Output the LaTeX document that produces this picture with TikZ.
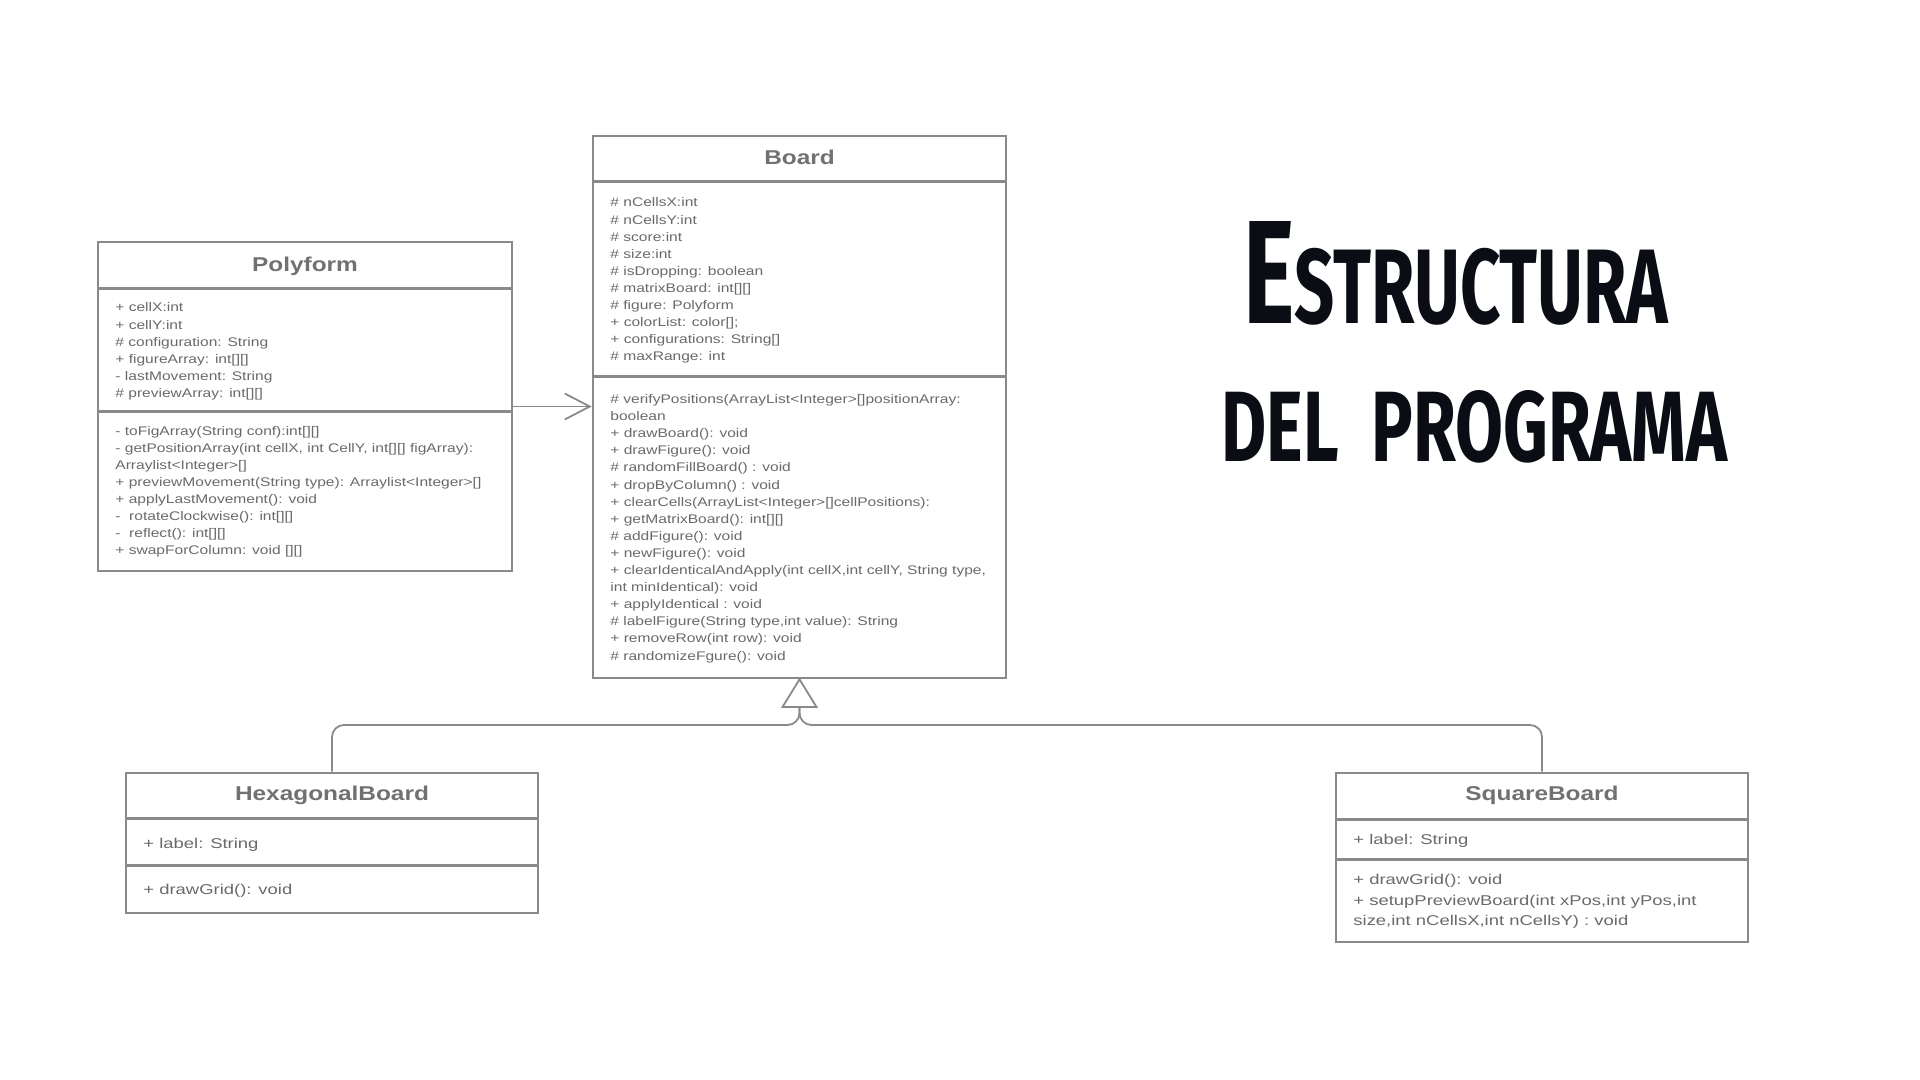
\documentclass[tikz,border=0pt]{standalone}
\usepackage{fontspec}
\usepackage{graphicx}
\setmainfont{Liberation Sans}
\newfontfamily\bodyf{Liberation Sans}[FakeStretch=1.245]
\newfontfamily\bigf{Liberation Sans}[FakeStretch=1.3]
\newfontfamily\headf{Liberation Sans}[FakeStretch=1.22]
\newfontfamily\titlef{Fira Sans}
\usetikzlibrary{arrows.meta,calc}
\definecolor{boxgray}{HTML}{8A8A8A}
\definecolor{txtgray}{HTML}{6A6A6A}
\definecolor{headgray}{HTML}{717171}
\definecolor{titleblack}{HTML}{0B0D15}
\begin{document}
\begin{tikzpicture}[x=0.5pt,y=-0.5pt,
 umlbox/.style={draw=boxgray, line width=1.3pt, fill=white, inner sep=0, rectangle},
 sep/.style={draw=boxgray, line width=1.3pt},
 head/.style={anchor=base, inner sep=0, text=headgray, font=\headf\bfseries\fontsize{10pt}{12pt}\selectfont},
 txt/.style={anchor=base west, inner sep=0, text=txtgray, font=\bodyf\fontsize{6.25pt}{8.5pt}\selectfont},
 txtbig/.style={anchor=base west, inner sep=0, text=txtgray, font=\bigf\fontsize{7.1pt}{10pt}\selectfont},
 conn/.style={draw=boxgray, line width=0.9pt},
 titletxt/.style={anchor=base west, inner sep=0, text=titleblack}
]
\useasboundingbox[fill=white] (0,0) rectangle (1920,1080);

% ---------- boxes ----------
\node[umlbox, minimum width=206.5pt, minimum height=271pt] (board) at (799.5,407) {};
\node[umlbox, minimum width=207pt, minimum height=164.5pt] (poly) at (305,406.5) {};
\node[umlbox, minimum width=206pt, minimum height=70pt] (hex) at (332,843) {};
\node[umlbox, minimum width=206pt, minimum height=84.5pt] (sq) at (1542,857.5) {};

% separators
\draw[sep] ($(board.north west)+(0,47)$) -- ($(board.north east)+(0,47)$);
\draw[sep] ($(board.north west)+(0,242)$) -- ($(board.north east)+(0,242)$);
\draw[sep] ($(poly.north west)+(0,48)$) -- ($(poly.north east)+(0,48)$);
\draw[sep] ($(poly.north west)+(0,171)$) -- ($(poly.north east)+(0,171)$);
\draw[sep] ($(hex.north west)+(0,47)$) -- ($(hex.north east)+(0,47)$);
\draw[sep] ($(hex.north west)+(0,94)$) -- ($(hex.north east)+(0,94)$);
\draw[sep] ($(sq.north west)+(0,48)$) -- ($(sq.north east)+(0,48)$);
\draw[sep] ($(sq.north west)+(0,88)$) -- ($(sq.north east)+(0,88)$);

% ---------- headers ----------
\node[head] (boardh) at (799.5,165) {Board};
\node[head] (polyh) at (305,272) {Polyform};
\node[head] (hexh) at (332,800.5) {HexagonalBoard};
\node[head] (sqh) at (1542,800.5) {SquareBoard};

% ---------- Board ----------
\foreach \t [count=\i from 0] in {{\# nCellsX:int},{\# nCellsY:int},{\# score:int},{\# size:int},{\# isDropping: boolean},{\# matrixBoard: int[][]},{\# figure: Polyform},{+ colorList: color[];},{+ configurations: String[]},{\# maxRange: int}}
  \node[txt] (ba\i) at (610,{207+17.1*\i}) {\t};
\foreach \t [count=\i from 0] in {{\# verifyPositions(ArrayList<Integer>[]positionArray:},{boolean},{+ drawBoard(): void},{+ drawFigure(): void},{\# randomFillBoard() : void},{+ dropByColumn() : void},{+ clearCells(ArrayList<Integer>[]cellPositions):},{+ getMatrixBoard(): int[][]},{\# addFigure(): void},{+ newFigure(): void},{+ clearIdenticalAndApply(int cellX,int cellY, String type,},{int minIdentical): void},{+ applyIdentical : void},{\# labelFigure(String type,int value): String},{+ removeRow(int row): void},{\# randomizeFgure(): void}}
  \node[txt] (bm\i) at (610,{403.5+17.1*\i}) {\t};

% ---------- Polyform ----------
\foreach \t [count=\i from 0] in {{+ cellX:int},{+ cellY:int},{\# configuration: String},{+ figureArray: int[][]},{- lastMovement: String},{\# previewArray: int[][]}}
  \node[txt] (pa\i) at (115,{312+17.1*\i}) {\t};
\foreach \t [count=\i from 0] in {{- toFigArray(String conf):int[][]},{- getPositionArray(int cellX, int CellY, int[][] figArray):},{Arraylist<Integer>[]},{+ previewMovement(String type): Arraylist<Integer>[]},{+ applyLastMovement(): void},{-\ \ rotateClockwise(): int[][]},{-\ \ reflect(): int[][]},{+ swapForColumn: void [][]}}
  \node[txt] (pm\i) at (115,{435+17.1*\i}) {\t};

% ---------- HexagonalBoard ----------
\node[txtbig] (ha0) at (143,848) {+ label: String};
\node[txtbig] (hm0) at (143,894) {+ drawGrid(): void};

% ---------- SquareBoard ----------
\node[txtbig] (sa0) at (1353,844) {+ label: String};
\node[txtbig] (sm0) at (1353,884) {+ drawGrid(): void};
\node[txtbig] (sm1) at (1353,905) {+ setupPreviewBoard(int xPos,int yPos,int};
\node[txtbig] (sm2) at (1353,925) {size,int nCellsX,int nCellsY) : void};

% ---------- connectors ----------
\draw[conn, -{Straight Barb[length=12.5pt,width=13pt]}] (poly.east) -- (poly.east -| board.west);

\coordinate (junc) at (799.5,725);
\coordinate (tribase) at (799.5,707);
\draw[conn, rounded corners=6pt] (hex.north) |- (junc) -- (tribase);
\draw[conn, rounded corners=6pt] (sq.north) |- (junc) -- (tribase);
\draw[conn, fill=white, line join=miter] (board.south) -- ([xshift=-8.5pt]tribase) -- ([xshift=8.5pt]tribase) -- cycle;

% ---------- title ----------
\node[titletxt] (title1) at (1243,324) {\resizebox{212.5pt}{51pt}{\titlef\bfseries\fontsize{20pt}{20pt}\selectfont E\fontsize{14.4pt}{14pt}\selectfont STRUCTURA}};
\node[titletxt] (title2) at (1221,461) {\resizebox{253pt}{35.5pt}{\titlef\bfseries\fontsize{14pt}{14pt}\selectfont DEL\ \ PROGRAMA}};
\end{tikzpicture}
\end{document}
